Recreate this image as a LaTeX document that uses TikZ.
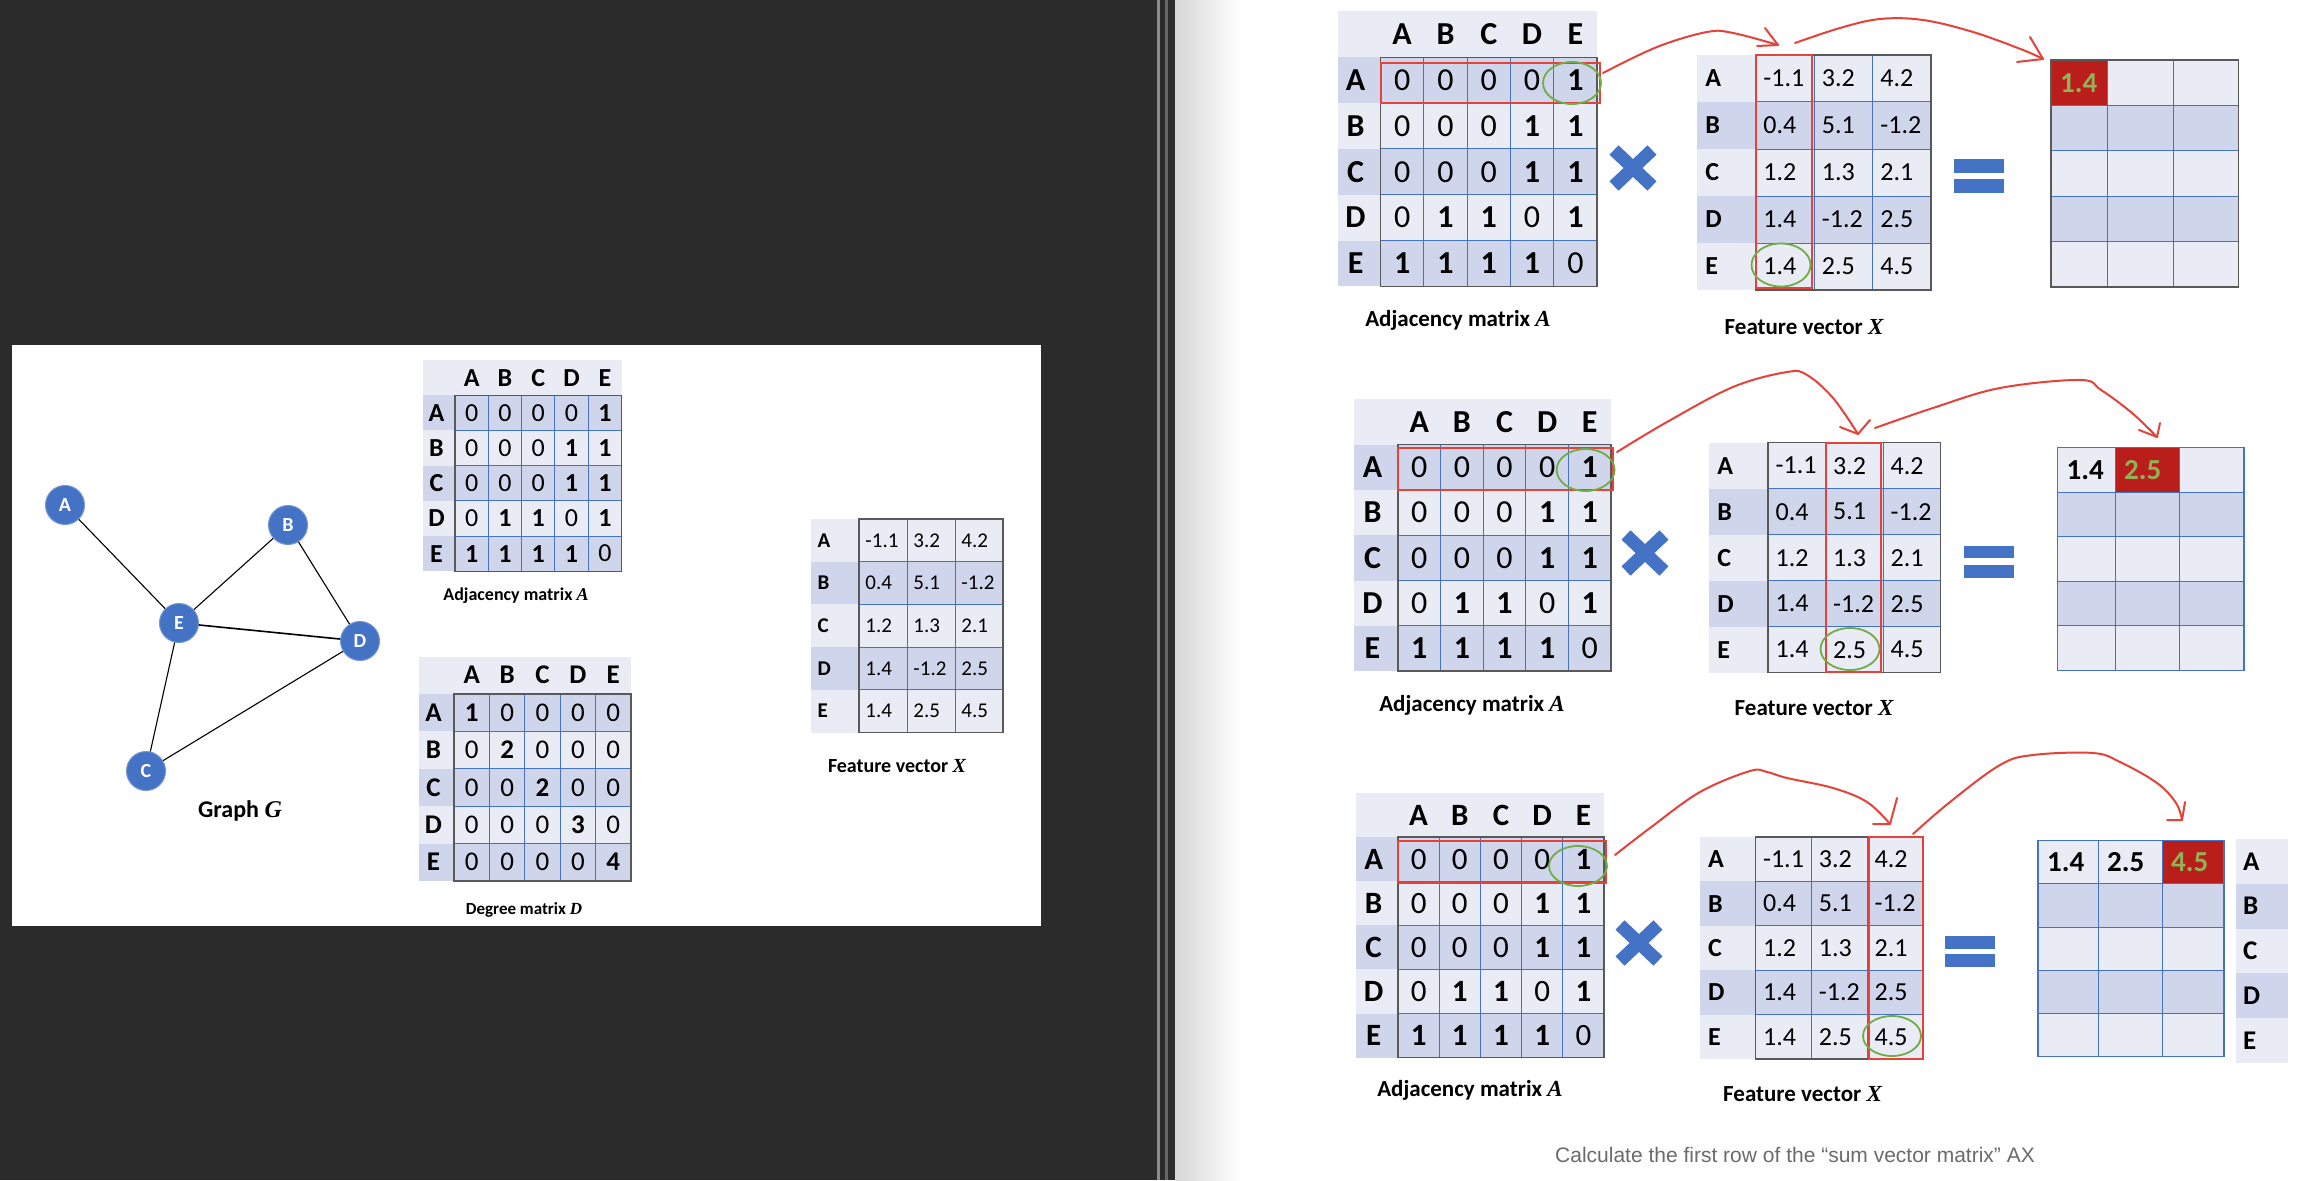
\documentclass[tikz,border=0pt]{standalone}
\usepackage{fontspec}
\setmainfont{Carlito}
\newfontfamily\capfont{Liberation Sans}
\newfontfamily\mifont{Liberation Serif}
\usetikzlibrary{calc}
\definecolor{lightc}{HTML}{E9EBF5}
\definecolor{darkc}{HTML}{CFD5EA}
\definecolor{gridc}{HTML}{4472C4}
\definecolor{bordc}{HTML}{595959}
\definecolor{redc}{HTML}{E5423A}
\definecolor{greenc}{HTML}{70AD47}
\definecolor{cellred}{HTML}{BA1E1A}
\definecolor{celltxt}{HTML}{8FB357}
\definecolor{bgdark}{HTML}{2B2B2B}
\definecolor{nodeblue}{HTML}{4472C4}
\definecolor{captiongray}{HTML}{6B6B6B}
\newcommand{\fsz}[1]{\fontsize{#1}{#1}\selectfont}
\newcommand{\mi}[1]{{\mifont\bfseries\itshape #1}}
\tikzset{
 gridln/.style={draw=gridc, line width=1},
 bordln/.style={draw=bordc, line width=1.4},
 redbox/.style={draw=redc, line width=2},
 greenring/.style={draw=greenc, line width=1.8},
 arr/.style={draw=redc, line width=2, line cap=round, line join=round},
 gnode/.style={circle, fill=nodeblue, draw=nodeblue!75!white, line width=1, minimum size=39, inner sep=0, text=white, font=\fsz{20}\bfseries},
 gedge/.style={draw=black, line width=1.1},
 lbl/.style={inner sep=0, font=\fsz{23}\bfseries},
 opsign/.style={fill=gridc},
}
% adjacency-style matrix: name, xL, yHeaderTop, labelW, cellW, rowH, fontsize, rows
\newcommand{\adjmat}[8]{%
 \pgfmathsetmacro\xC{#2+#4}%
 \pgfmathsetmacro\xR{#2+#4+5*#5}%
 \pgfmathsetmacro\yA{#3+#6}%
 \pgfmathsetmacro\yB{#3+6*#6}%
 \fill[lightc] (#2,#3) rectangle (\xR,\yA);
 \foreach \i in {1,...,5}{%
   \pgfmathsetmacro\yt{#3+\i*#6}%
   \pgfmathsetmacro\yb{#3+(\i+1)*#6}%
   \ifodd\i\relax\fill[darkc] (#2,\yt) rectangle (\xR,\yb);\else\fill[lightc] (#2,\yt) rectangle (\xR,\yb);\fi
 }
 \foreach \j in {1,...,4}{\pgfmathsetmacro\xx{\xC+\j*#5}\draw[gridln] (\xx,\yA) -- (\xx,\yB);}
 \foreach \i in {2,...,5}{\pgfmathsetmacro\yy{#3+\i*#6}\draw[gridln] (\xC,\yy) -- (\xR,\yy);}
 \draw[bordln] (\xC,\yA) rectangle (\xR,\yB);
 \foreach \lt [count=\j] in {A,B,C,D,E}{%
   \pgfmathsetmacro\xx{\xC+(\j-0.5)*#5}%
   \pgfmathsetmacro\yy{#3+0.5*#6}%
   \node[inner sep=0, font=\fsz{#7}\bfseries] (#1-h\j) at (\xx,\yy) {\lt};
   \pgfmathsetmacro\yr{#3+(\j+0.5)*#6}%
   \pgfmathsetmacro\xl{#2+0.42*#4}%
   \node[inner sep=0, font=\fsz{#7}\bfseries] (#1-r\j) at (\xl,\yr) {\lt};
 }
 \foreach \row [count=\i] in {#8}{%
   \foreach \v [count=\j] in \row {%
     \pgfmathsetmacro\xx{\xC+(\j-0.5)*#5}%
     \pgfmathsetmacro\yy{#3+(\i+0.5)*#6}%
     \node[inner sep=0, font=\fsz{#7}] (#1-\i-\j) at (\xx,\yy) {\ifnum\v=0 0\else\textbf{\v}\fi};
   }
 }
}
% feature matrix: name, xL, yTop, labelW, cellW, rowH, fontsize
\newcommand{\featmat}[7]{%
 \pgfmathsetmacro\xC{#2+#4}%
 \pgfmathsetmacro\xR{#2+#4+3*#5}%
 \pgfmathsetmacro\yB{#3+5*#6}%
 \foreach \i in {1,...,5}{%
   \pgfmathsetmacro\yt{#3+(\i-1)*#6}%
   \pgfmathsetmacro\yb{#3+\i*#6}%
   \ifodd\i\relax\fill[lightc] (#2,\yt) rectangle (\xR,\yb);\else\fill[darkc] (#2,\yt) rectangle (\xR,\yb);\fi
 }
 \foreach \j in {1,2}{\pgfmathsetmacro\xx{\xC+\j*#5}\draw[gridln] (\xx,#3) -- (\xx,\yB);}
 \foreach \i in {1,...,4}{\pgfmathsetmacro\yy{#3+\i*#6}\draw[gridln] (\xC,\yy) -- (\xR,\yy);}
 \draw[bordln] (\xC,#3) rectangle (\xR,\yB);
 \foreach \lt [count=\i] in {A,B,C,D,E}{%
   \pgfmathsetmacro\yy{#3+(\i-0.5)*#6}%
   \pgfmathsetmacro\xl{#2+0.14*#4}%
   \node[inner sep=0, anchor=west, font=\fsz{#7}\bfseries] (#1-r\i) at (\xl,\yy) {\lt};
 }
 \foreach \row [count=\i] in {{-1.1,3.2,4.2},{0.4,5.1,-1.2},{1.2,1.3,2.1},{1.4,-1.2,2.5},{1.4,2.5,4.5}}{%
   \foreach \v [count=\j] in \row {%
     \pgfmathsetmacro\xx{\xC+(\j-1)*#5+0.13*#5}%
     \pgfmathsetmacro\yy{#3+(\i-0.5)*#6}%
     \node[inner sep=0, anchor=west, font=\fsz{#7}] (#1-\i-\j) at (\xx,\yy) {\v};
   }
 }
}
% result matrix: name, x0,x1,x2,x3, yTop, rowH, border colour, red column
\newcommand{\resmat}[9]{%
 \pgfmathsetmacro\yB{#6+5*#7}%
 \foreach \i in {1,...,5}{%
   \pgfmathsetmacro\yt{#6+(\i-1)*#7}%
   \pgfmathsetmacro\yb{#6+\i*#7}%
   \ifodd\i\relax\fill[lightc] (#2,\yt) rectangle (#5,\yb);\else\fill[darkc] (#2,\yt) rectangle (#5,\yb);\fi
 }
 \pgfmathsetmacro\ya{#6+#7}%
 \ifcase#9\or\fill[cellred] (#2,#6) rectangle (#3,\ya);\or\fill[cellred] (#3,#6) rectangle (#4,\ya);\or\fill[cellred] (#4,#6) rectangle (#5,\ya);\fi
 \draw[gridln] (#3,#6) -- (#3,\yB) (#4,#6) -- (#4,\yB);
 \foreach \i in {1,...,4}{\pgfmathsetmacro\yy{#6+\i*#7}\draw[gridln] (#2,\yy) -- (#5,\yy);}
 \draw[draw=#8, line width=1.4] (#2,#6) rectangle (#5,\yB);
}
\begin{document}
\begin{tikzpicture}[x=1pt,y=-1pt]
\useasboundingbox (0,0) rectangle (2301,1180);
% backgrounds
\fill[white] (0,0) rectangle (2301,1180);
\fill[bgdark] (0,0) rectangle (1175,1180);
\fill[black!45] (1157,0) rectangle (1160,1180);
\fill[black!60] (1165,0) rectangle (1168,1180);
\shade[left color=black!16, right color=white] (1175,0) rectangle (1240,1180);
\fill[white] (12,345) rectangle (1041,926);

% ---------------- left panel ----------------
\node[gnode] (A) at (65,505) {A};
\node[gnode] (B) at (288,525) {B};
\node[gnode] (E) at (179,623) {E};
\node[gnode] (D) at (360,641) {D};
\node[gnode] (C) at (146,771) {C};
\draw[gedge] (A) -- (E);
\draw[gedge] (B) -- (E);
\draw[gedge] (B) -- (D);
\draw[gedge, line width=1.6] (E) -- (D);
\draw[gedge] (E) -- (C);
\draw[gedge] (C) -- (D);
\node[inner sep=0, font=\fsz{24}\bfseries] (gG) at (240,811) {Graph \mi{G}};

\adjmat{LA}{423}{360}{32}{33.3}{35.2}{26}{{0,0,0,0,1},{0,0,0,1,1},{0,0,0,1,1},{0,1,1,0,1},{1,1,1,1,0}}
\node[inner sep=0, font=\fsz{18}\bfseries] (LAl) at (516,596) {Adjacency matrix \mi{A}};
\adjmat{LD}{418.6}{656.5}{35.4}{35.4}{37.4}{27}{{1,0,0,0,0},{0,2,0,0,0},{0,0,2,0,0},{0,0,0,3,0},{0,0,0,0,4}}
\node[inner sep=0, font=\fsz{17}\bfseries] (LDl) at (524,910) {Degree matrix \mi{D}};
\featmat{LX}{810.5}{519}{48.5}{48}{42.7}{21}
\node[inner sep=0, font=\fsz{20}\bfseries] (LXl) at (897,766) {Feature vector \mi{X}};

% ---------------- right: block 1 ----------------
\adjmat{A1}{1337.5}{11.5}{43}{43.3}{45.8}{32}{{0,0,0,0,1},{0,0,0,1,1},{0,0,0,1,1},{0,1,1,0,1},{1,1,1,1,0}}
\node[lbl] (A1l) at (1458,320) {Adjacency matrix \mi{A}};
\draw[gridc, line width=13] (1614,150) -- (1652,186) (1614,186) -- (1652,150);
\featmat{X1}{1697}{55}{58.6}{58.5}{47}{26}
\node[lbl] (X1l) at (1804,327) {Feature vector \mi{X}};
\fill[opsign] (1954,159) rectangle (2004,173);
\fill[opsign] (1954,179) rectangle (2004,193);
\resmat{R1}{2051}{2107.6}{2173.6}{2238.6}{60}{45.4}{bordc}{1}
\node[inner sep=0, anchor=west, font=\fsz{29}\bfseries, text=celltxt] (R1-1) at (2060,82.7) {1.4};
\draw[redbox] (1381,63.5) rectangle (1599.5,103);
\draw[greenring] (1572,83) ellipse [x radius=29, y radius=21];
\draw[redbox] (1755.6,55) rectangle (1812,288);
\draw[greenring] (1781,265) ellipse [x radius=29.5, y radius=21.5];
\coordinate (a1s) at (1603,73);
\coordinate (a1t) at (1778,45);
\coordinate (b1s) at (1795,43);
\coordinate (b1t) at (2043,59);
\draw[arr] plot[smooth, tension=0.6] coordinates {(a1s) (1657,47) (1707,32) (1733,33) (a1t)};
\draw[arr] (1765,28) -- (a1t) -- (1757,46);
\draw[arr] plot[smooth, tension=0.6] coordinates {(b1s) (1840,28) (1880,19) (1923,20) (1973,32) (2023,50) (b1t)};
\draw[arr] (2030,37) -- (b1t) -- (2017,62);

% ---------------- right: block 2 ----------------
\adjmat{A2}{1354}{399.3}{44}{42.6}{45.3}{32}{{0,0,0,0,1},{0,0,0,1,1},{0,0,0,1,1},{0,1,1,0,1},{1,1,1,1,0}}
\node[lbl] (A2l) at (1472,705) {Adjacency matrix \mi{A}};
\draw[gridc, line width=13] (1626,535) -- (1664,571) (1626,571) -- (1664,535);
\featmat{X2}{1709}{442.7}{59}{57.5}{46}{26}
\node[lbl] (X2l) at (1814,708) {Feature vector \mi{X}};
\fill[opsign] (1964,545.7) rectangle (2014,557.7);
\fill[opsign] (1964,565) rectangle (2014,577.7);
\resmat{R2}{2057.5}{2115}{2179}{2244}{447.7}{44.5}{gridc}{2}
\node[inner sep=0, anchor=west, font=\fsz{29}\bfseries] (R2-1) at (2066.5,470) {1.4};
\node[inner sep=0, anchor=west, font=\fsz{29}\bfseries, text=celltxt] (R2-2) at (2124,470) {2.5};
\draw[redbox] (1398,448) rectangle (1612.5,490);
\draw[greenring] (1585.6,470) ellipse [x radius=29, y radius=21];
\draw[redbox] (1826,443) rectangle (1880.6,672);
\draw[greenring] (1850,649) ellipse [x radius=29.5, y radius=21];
\coordinate (a2s) at (1617,452);
\coordinate (a2t) at (1858,434);
\coordinate (b2s) at (1875,428);
\coordinate (b2t) at (2157,437);
\draw[arr] plot[smooth, tension=0.6] coordinates {(a2s) (1667,422) (1733,387) (1787,372) (1807,375) (1833,398) (a2t)};
\draw[arr] (1840,427) -- (a2t) -- (1870,420);
\draw[arr] plot[smooth, tension=0.6] coordinates {(b2s) (1933,408) (2000,388) (2080,380) (2101,390) (2132,413) (b2t)};
\draw[arr] (2139,430) -- (b2t) -- (2160,423);

% ---------------- right: block 3 ----------------
\adjmat{A3}{1356}{793}{42}{41.2}{44.1}{31}{{0,0,0,0,1},{0,0,0,1,1},{0,0,0,1,1},{0,1,1,0,1},{1,1,1,1,0}}
\node[lbl] (A3l) at (1470,1090) {Adjacency matrix \mi{A}};
\draw[gridc, line width=13] (1620,925) -- (1658,961) (1620,961) -- (1658,925);
\featmat{X3}{1700}{837}{55.6}{55.8}{44.4}{26}
\node[lbl] (X3l) at (1802.5,1094) {Feature vector \mi{X}};
\fill[opsign] (1945,936) rectangle (1995,949);
\fill[opsign] (1945,954) rectangle (1995,966.7);
\resmat{R3}{2038}{2098}{2162}{2224}{840.7}{43.2}{gridc}{3}
\node[inner sep=0, anchor=west, font=\fsz{29}\bfseries] (R3-1) at (2047,862.3) {1.4};
\node[inner sep=0, anchor=west, font=\fsz{29}\bfseries] (R3-2) at (2107,862.3) {2.5};
\node[inner sep=0, anchor=west, font=\fsz{29}\bfseries, text=celltxt] (R3-3) at (2171,862.3) {4.5};
\foreach \lt [count=\i] in {A,B,C,D,E}{%
  \pgfmathsetmacro\yt{839+(\i-1)*44.8}%
  \pgfmathsetmacro\yb{839+\i*44.8}%
  \pgfmathsetmacro\yy{839+(\i-0.5)*44.8}%
  \ifodd\i\relax\fill[lightc] (2236,\yt) rectangle (2288,\yb);\else\fill[darkc] (2236,\yt) rectangle (2288,\yb);\fi
  \node[inner sep=0, anchor=west, font=\fsz{27}\bfseries] (R3-r\i) at (2243,\yy) {\lt};
}
\draw[redbox] (1398,841) rectangle (1605.6,882.7);
\draw[greenring] (1578,866) ellipse [x radius=29, y radius=20];
\draw[redbox] (1869,837) rectangle (1923,1059);
\draw[greenring] (1892,1036) ellipse [x radius=29, y radius=20];
\coordinate (a3s) at (1615,855);
\coordinate (a3t) at (1890,824);
\coordinate (b3s) at (1913,834);
\coordinate (b3t) at (2182,820);
\draw[arr] plot[smooth, tension=0.6] coordinates {(a3s) (1650,828) (1700,792) (1750,771) (1767,772) (1787,778) (1833,788) (1867,802) (a3t)};
\draw[arr] (1897,798) -- (a3t) -- (1873,824);
\draw[arr] plot[smooth, tension=0.6] coordinates {(b3s) (1950,802) (2000,765) (2033,755) (2093,753) (2120,762) (2157,783) (2176,803) (b3t)};
\draw[arr] (2185,802) -- (b3t) -- (2167,820);

\node[inner sep=0, font=\capfont\fsz{21}, text=captiongray] (cap) at (1795,1155) {Calculate the first row of the “sum vector matrix” AX};
\end{tikzpicture}
\end{document}
